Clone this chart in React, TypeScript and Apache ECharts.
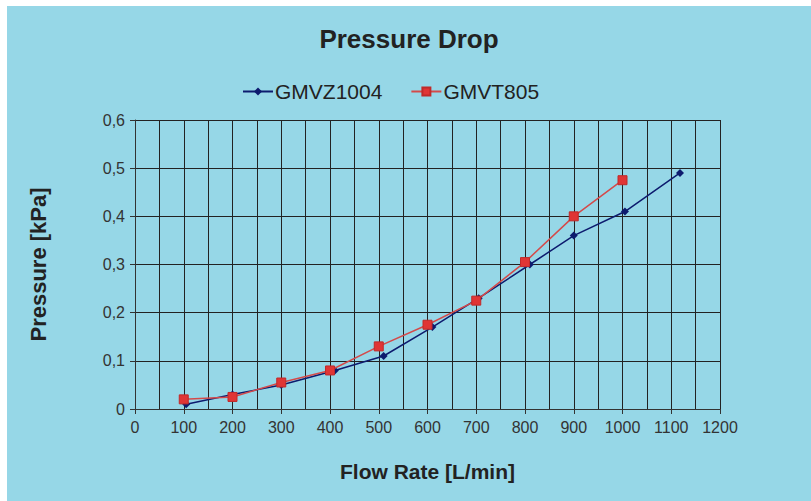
import React, { useEffect, useRef } from "react";
import * as echarts from "echarts";

const gmvzFlow = [105, 200, 300, 410, 510, 610, 705, 810, 900, 1005, 1118];
const gmvzPressure = [0.01, 0.03, 0.05, 0.08, 0.11, 0.17, 0.23, 0.3, 0.36, 0.41, 0.49];
const gmvtFlow = [100, 200, 300, 400, 500, 600, 700, 800, 900, 1000];
const gmvtPressure = [0.02, 0.025, 0.055, 0.08, 0.13, 0.175, 0.225, 0.305, 0.4, 0.475];
const seriesNames = ["GMVZ1004", "GMVT805"];

const BG = "#96d7e7";
const FONT = "Liberation Sans, Arial, sans-serif";

export default function App() {
  const ref = useRef<HTMLDivElement>(null);
  useEffect(() => {
    if (!ref.current) return;
    const chart = echarts.init(ref.current, null, { renderer: "svg" });
    chart.setOption({
      animation: false,
      backgroundColor: BG,
      textStyle: { fontFamily: FONT },
      title: {
        text: "Pressure Drop",
        left: "center",
        top: 15,
        textStyle: { fontSize: 26, fontWeight: "bold", color: "#222", fontFamily: FONT },
      },
      legend: {
        top: 70,
        left: 230,
        itemWidth: 30,
        itemHeight: 10,
        itemGap: 28,
        textStyle: { fontSize: 21, color: "#222", fontFamily: FONT, padding: [0, 0, 0, -3] },
        data: seriesNames,
      },
      grid: { left: 128, right: 91, top: 114, bottom: 92 },
      xAxis: {
        type: "value",
        min: 0,
        max: 1200,
        interval: 100,
        name: "Flow Rate [L/min]",
        nameLocation: "middle",
        nameGap: 52,
        nameTextStyle: { fontSize: 21, fontWeight: "bold", color: "#222", fontFamily: FONT },
        axisLine: { show: true, lineStyle: { color: "#333", width: 1 } },
        axisTick: { show: true, length: 5, lineStyle: { color: "#333" } },
        axisLabel: {
          fontSize: 16,
          color: "#333",
          margin: 10,
          fontFamily: FONT,
          formatter: (v: number) => String(v),
        },
        splitLine: { show: true, lineStyle: { color: "#222", width: 1 } },
        minorTick: { show: false, splitNumber: 2 },
        minorSplitLine: { show: true, lineStyle: { color: "#222", width: 1 } },
      },
      yAxis: {
        type: "value",
        min: 0,
        max: 0.6,
        interval: 0.1,
        name: "Pressure [kPa]",
        nameLocation: "middle",
        nameGap: 86,
        nameTextStyle: { fontSize: 22, fontWeight: "bold", color: "#222", fontFamily: FONT },
        axisLine: { show: true, lineStyle: { color: "#333", width: 1 } },
        axisTick: { show: true, length: 5, lineStyle: { color: "#333" } },
        axisLabel: {
          fontSize: 16,
          color: "#333",
          margin: 10,
          fontFamily: FONT,
          formatter: (v: number) => (v === 0 ? "0" : v.toFixed(1).replace(".", ",")),
        },
        splitLine: { show: true, lineStyle: { color: "#222", width: 1 } },
      },
      series: [
        {
          name: seriesNames[0],
          type: "line",
          data: gmvzFlow.map((x, i) => [x, gmvzPressure[i]]),
          symbol: "diamond",
          symbolSize: 8,
          lineStyle: { color: "#0d1b6e", width: 1.5 },
          itemStyle: { color: "#0d1b6e" },
          z: 3,
        },
        {
          name: seriesNames[1],
          type: "line",
          data: gmvtFlow.map((x, i) => [x, gmvtPressure[i]]),
          symbol: "rect",
          symbolSize: 9,
          lineStyle: { color: "#d44a4a", width: 1.5 },
          itemStyle: { color: "#e03535", borderColor: "#c02a2a", borderWidth: 1 },
          z: 4,
        },
      ],
    });
    return () => chart.dispose();
  }, []);
  return (
    <div style={{ position: "fixed", left: 0, top: 0, width: 811, height: 501, background: "#fff" }}>
      <div ref={ref} style={{ position: "absolute", left: 7, top: 6, width: 804, height: 495 }} />
    </div>
  );
}
